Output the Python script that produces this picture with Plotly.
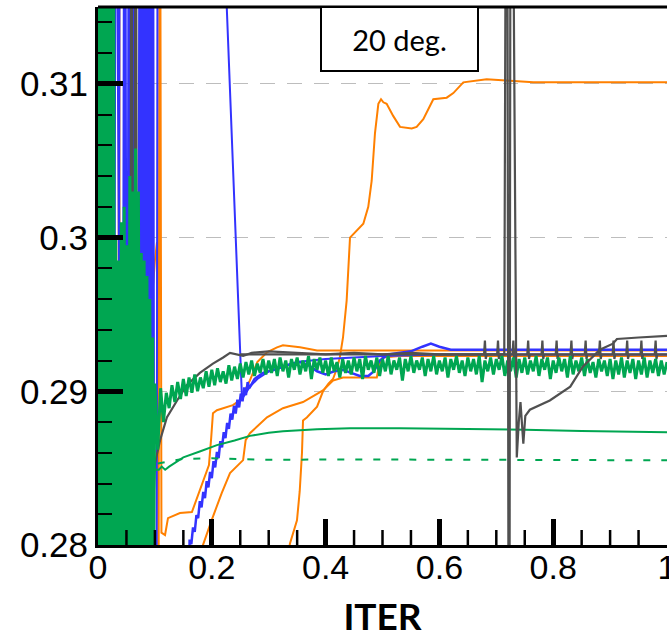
import plotly.graph_objects as go

# ---------------- axis / tick data ----------------
X_TICKS = [0, 0.2, 0.4, 0.6, 0.8, 1.0]
X_TICK_LABELS = ["0", "0.2", "0.4", "0.6", "0.8", "1"]
X_MINOR_TICKS = [0.05, 0.1, 0.15, 0.25, 0.3, 0.35, 0.45, 0.5, 0.55, 0.65, 0.7, 0.75, 0.85, 0.9, 0.95]
Y_TICKS = [0.28, 0.29, 0.30, 0.31]
Y_TICK_LABELS = ["0.28", "0.29", "0.3", "0.31"]
X_RANGE = [0, 1]
Y_RANGE = [0.28, 0.315]
PANEL_LABEL = "20 deg."
X_TITLE = "ITER"

# ---------------- orange series ----------------
ORANGE_A_X = [0.000, 0.036, 0.037, 0.0385, 0.330, 0.3374, 0.3497, 0.3545, 0.3585, 0.3603,
              0.367, 0.385, 0.3954, 0.405, 0.413, 0.420, 0.425, 0.4306, 0.437, 0.4429,
              0.4663, 0.475, 0.481, 0.4868, 0.4927, 0.4974, 0.5015, 0.5073, 0.519, 0.5308,
              0.5513, 0.560, 0.5717, 0.5893, 0.6128, 0.6245, 0.642, 0.683, 0.724, 0.765, 1.000]
ORANGE_A_Y = [0.270, 0.270, 0.340, 0.260, 0.2785, 0.2801, 0.2816, 0.2835, 0.2860, 0.2881,
              0.2883, 0.2890, 0.2900, 0.2905, 0.2908, 0.2915, 0.2922, 0.2935, 0.2959, 0.3000,
              0.3009, 0.3020, 0.3037, 0.3068, 0.3087, 0.3090, 0.3088, 0.3087, 0.3079, 0.3072,
              0.3071, 0.3072, 0.3077, 0.3090, 0.3091, 0.3094, 0.3101, 0.3103, 0.3102, 0.3101, 0.3101]

ORANGE_B_X = [0.000, 0.084, 0.0855, 0.0870, 0.0885, 0.095, 0.1000, 0.1037, 0.1050, 0.1065,
              0.1085, 0.1115, 0.1178, 0.123, 0.144, 0.165, 0.195, 0.199, 0.202, 0.209,
              0.237, 0.2496, 0.267, 0.280, 0.297, 0.3146, 0.325, 0.355, 0.385, 1.000]
ORANGE_B_Y = [0.270, 0.270, 0.340, 0.3077, 0.2958, 0.2960, 0.2985, 0.2997, 0.2960, 0.2750,
              0.3400, 0.2808, 0.28065, 0.28175, 0.28208, 0.28214, 0.2852, 0.2870, 0.28857, 0.28877,
              0.2891, 0.28942, 0.29071, 0.2919, 0.29253, 0.29286, 0.29299, 0.29286, 0.29266, 0.29266]

ORANGE_D_X = [0.000, 0.180, 0.1845, 0.1998, 0.2174, 0.232, 0.255, 0.2595, 0.267, 0.297,
              0.325, 0.3603, 0.3954, 0.413, 0.4306, 0.490, 0.494, 0.500, 0.530, 0.700, 1.000]
ORANGE_D_Y = [0.270, 0.2770, 0.2800, 0.28162, 0.28338, 0.28468, 0.28552, 0.28682, 0.28727, 0.28831,
              0.2889, 0.2893, 0.29006, 0.2907, 0.2909, 0.2909, 0.2917, 0.2922, 0.2923, 0.2923, 0.2923]

# ---------------- blue series ----------------
BLUE_1_X = [0.000, 0.004, 0.008, 0.012, 0.016, 0.023, 0.027, 0.031, 0.043, 0.047,
            0.051, 0.055, 0.060, 0.064, 0.070, 0.074, 0.077, 0.080, 0.082, 0.084,
            0.086, 0.088, 0.090, 0.092, 0.094, 0.096, 0.099, 0.155,
            0.161, 0.164, 0.167, 0.170, 0.173, 0.176, 0.179, 0.182, 0.185, 0.188,
            0.191, 0.194, 0.197, 0.200, 0.203, 0.206, 0.209, 0.212, 0.215, 0.218,
            0.221, 0.224, 0.227, 0.230, 0.233, 0.236, 0.239, 0.242, 0.245, 0.248,
            0.251, 0.254, 0.257, 0.260, 0.263, 0.266,
            0.275, 0.290, 0.310, 0.325, 0.340, 0.355, 0.370, 0.385, 0.400, 0.415,
            0.430, 0.445, 0.460, 0.475, 0.485, 0.495, 0.510, 0.550, 0.570, 0.585,
            0.600, 0.620, 0.800, 1.000]
BLUE_1_Y = [0.290, 0.340, 0.260, 0.340, 0.260, 0.340, 0.260, 0.340, 0.260, 0.340,
            0.260, 0.340, 0.260, 0.340, 0.260, 0.340, 0.260, 0.340, 0.260, 0.340,
            0.260, 0.340, 0.260, 0.340, 0.260, 0.340, 0.260, 0.262,
            0.28035, 0.28005, 0.28115, 0.28085, 0.28195, 0.28175, 0.28285, 0.28245, 0.28345, 0.28305,
            0.28415, 0.28375, 0.28475, 0.28435, 0.28545, 0.28505, 0.28605, 0.28565, 0.28675, 0.28635,
            0.28735, 0.28695, 0.28795, 0.28755, 0.28855, 0.28815, 0.28905, 0.28855, 0.28945, 0.28895,
            0.28985, 0.28935, 0.29025, 0.28975, 0.29060, 0.29020,
            0.2908, 0.2912, 0.2914, 0.2916, 0.2918, 0.2919, 0.2917, 0.2913, 0.2911, 0.2913,
            0.2914, 0.2912, 0.2910, 0.2910, 0.2913, 0.2920, 0.2924, 0.2926, 0.2929, 0.2931,
            0.2929, 0.2927, 0.2927, 0.2927]

BLUE_2_X = [0.000, 0.010, 0.019, 0.035, 0.039, 0.058, 0.062, 0.0665, 0.0935, 0.0960,
            0.1025, 0.1055, 0.200, 0.2531, 0.260, 0.267, 0.280, 0.300, 0.326, 0.350,
            0.400, 0.450, 0.500, 0.600, 0.800, 1.000]
BLUE_2_Y = [0.300, 0.340, 0.260, 0.260, 0.340, 0.340, 0.260, 0.340, 0.340, 0.260,
            0.260, 0.345, 0.340, 0.2895, 0.2899, 0.2903, 0.2908, 0.2913, 0.2916, 0.2919,
            0.2921, 0.2922, 0.2923, 0.2924, 0.2924, 0.2924]

# ---------------- gray series ----------------
GRAY_1_X = [0.000, 0.057, 0.0585, 0.062, 0.0665, 0.069, 0.093, 0.0965, 0.100, 0.109,
            0.121, 0.139, 0.156, 0.179, 0.202, 0.220, 0.232, 0.255, 0.270, 0.300,
            0.350, 0.400, 0.450, 0.500, 0.550, 0.600, 0.650,
            0.6785, 0.680, 0.6815, 0.683, 0.7015, 0.703, 0.7045, 0.706,
            0.7285, 0.730, 0.7315, 0.733, 0.7545, 0.756, 0.7575, 0.759,
            0.7795, 0.781, 0.7825, 0.784, 0.8045, 0.806, 0.8075, 0.809,
            0.8305, 0.832, 0.8335, 0.835, 0.8555, 0.857, 0.8585, 0.860,
            0.8805, 0.882, 0.8835, 0.885, 0.9045, 0.906, 0.9075, 0.909,
            0.9285, 0.930, 0.9315, 0.933, 0.9535, 0.955, 0.9565, 0.958,
            0.9785, 0.980, 0.9815, 0.983, 1.000]
GRAY_1_Y = [0.270, 0.270, 0.340, 0.260, 0.340, 0.260, 0.270, 0.2820, 0.2853, 0.2868,
            0.2883, 0.2894, 0.2904, 0.2912, 0.2918, 0.2922, 0.2925, 0.2923, 0.2925, 0.2926,
            0.2925, 0.2924, 0.2925, 0.2924, 0.2925, 0.2924, 0.2924,
            0.2924, 0.2933, 0.2921, 0.2924, 0.2924, 0.2933, 0.2921, 0.2924,
            0.2924, 0.2933, 0.2921, 0.2924, 0.2924, 0.2933, 0.2921, 0.2924,
            0.2924, 0.2933, 0.2921, 0.2924, 0.2924, 0.2933, 0.2921, 0.2924,
            0.2924, 0.2933, 0.2921, 0.2924, 0.2924, 0.2933, 0.2921, 0.2924,
            0.2924, 0.2933, 0.2921, 0.2924, 0.2924, 0.2933, 0.2921, 0.2924,
            0.2924, 0.2933, 0.2921, 0.2924, 0.2924, 0.2933, 0.2921, 0.2924,
            0.2924, 0.2933, 0.2921, 0.2924, 0.2924]

GRAY_2_X = [0.250, 0.400, 0.600, 0.700, 0.714, 0.7185, 0.7225, 0.7255, 0.7360, 0.7395,
            0.7425, 0.7475, 0.751, 0.759, 0.794, 0.830, 0.852, 0.882, 0.905, 0.912,
            0.950, 1.000]
GRAY_2_Y = [0.2924, 0.2924, 0.2924, 0.2924, 0.2924, 0.345, 0.250, 0.345, 0.2857, 0.2880,
            0.2893, 0.2866, 0.2884, 0.2888, 0.2894, 0.2903, 0.2916, 0.2927, 0.2931, 0.2934,
            0.2935, 0.2936]

# ---------------- green series ----------------
GREEN_SOLID_X = [0.095, 0.100, 0.107, 0.112, 0.118, 0.125, 0.150, 0.180, 0.209, 0.240,
                 0.267, 0.300, 0.325, 0.385, 0.443, 0.530, 0.650, 0.750, 0.850, 1.000]
GREEN_SOLID_Y = [0.2842, 0.2849, 0.2849, 0.2851, 0.2849, 0.2851, 0.2857, 0.2861, 0.2865, 0.2868,
                 0.2871, 0.2873, 0.2874, 0.28753, 0.2876, 0.2876, 0.28755, 0.2875, 0.28742, 0.28734]

GREEN_DASH_X = [0.105, 0.150, 0.200, 0.250, 0.300, 0.350, 0.400, 0.500, 0.600, 0.700,
                0.800, 0.900, 1.000]
GREEN_DASH_Y = [0.2853, 0.2856, 0.28565, 0.28558, 0.28555, 0.28555, 0.28557, 0.28556, 0.28555, 0.28554,
                0.28553, 0.28552, 0.28552]

# early (large-amplitude) part of the noisy green history
GREEN_NOISE_EARLY_X = [0.000, 0.0017, 0.0034, 0.0051, 0.0068, 0.0085, 0.0102, 0.0119, 0.0136, 0.0153,
                       0.0170, 0.0187, 0.0204, 0.0221, 0.0238, 0.0255, 0.0272, 0.0289,
                       0.031, 0.0335, 0.036, 0.0385, 0.041, 0.0435, 0.046, 0.0485, 0.051, 0.0535,
                       0.056, 0.0585, 0.061, 0.0635, 0.066, 0.0685, 0.071, 0.0735, 0.076, 0.0785,
                       0.081, 0.0835, 0.086, 0.0885, 0.091, 0.0935, 0.096, 0.098]
GREEN_NOISE_EARLY_Y = [0.330, 0.270, 0.330, 0.270, 0.330, 0.270, 0.330, 0.270, 0.330, 0.270,
                       0.330, 0.270, 0.330, 0.270, 0.330, 0.270, 0.330, 0.270,
                       0.3000, 0.2760, 0.2985, 0.2750, 0.3010, 0.2770, 0.3020, 0.2760, 0.2995, 0.2750,
                       0.3040, 0.2770, 0.3030, 0.2760, 0.3058, 0.2750, 0.3030, 0.2770, 0.2990, 0.2760,
                       0.2985, 0.2770, 0.2975, 0.2775, 0.2960, 0.2785, 0.2935, 0.2800]

# later part of the noisy green history, sampled every 0.005 from 0.100
GREEN_NOISE_START = 0.100
GREEN_NOISE_STEP = 0.005
GREEN_NOISE_Y = [
    0.2905, 0.2862, 0.2902, 0.2880, 0.2899, 0.2889, 0.2904, 0.2893, 0.2906, 0.2895,
    0.2908, 0.2897, 0.2909, 0.2899, 0.2911, 0.2900, 0.2909, 0.2902, 0.2913, 0.2903,
    0.2914, 0.2904, 0.2915, 0.2906, 0.2913, 0.2905, 0.2917, 0.2907, 0.2916, 0.2908,
    0.2918, 0.2909, 0.2919, 0.2911, 0.2920, 0.2910, 0.2918, 0.2912, 0.2921, 0.2911,
    0.2920, 0.2912, 0.2921, 0.2910, 0.2922, 0.2913, 0.2920, 0.2909, 0.2921, 0.2914,
    0.2922, 0.2911, 0.2920, 0.2913, 0.2923, 0.2908, 0.2921, 0.2914, 0.2922, 0.2912,
    0.2920, 0.2910, 0.2922, 0.2913, 0.2919, 0.2909, 0.2921, 0.2912, 0.2920, 0.2911,
    0.2922, 0.2913, 0.2921, 0.2908, 0.2923, 0.2914, 0.2920, 0.2912, 0.2922, 0.2910,
    0.2921, 0.2913, 0.2923, 0.2911, 0.2920, 0.2914, 0.2922, 0.2907, 0.2921, 0.2913,
    0.2923, 0.2912, 0.2920, 0.2914, 0.2922, 0.2910, 0.2921, 0.2913, 0.2923, 0.2911,
    0.2920, 0.2913, 0.2922, 0.2909, 0.2921, 0.2914, 0.2923, 0.2912, 0.2920, 0.2910,
    0.2922, 0.2913, 0.2921, 0.2911, 0.2923, 0.2906, 0.2920, 0.2913, 0.2922, 0.2911,
    0.2921, 0.2914, 0.2923, 0.2910, 0.2920, 0.2913, 0.2922, 0.2909, 0.2921, 0.2912,
    0.2922, 0.2911, 0.2920, 0.2913, 0.2923, 0.2910, 0.2921, 0.2914, 0.2922, 0.2908,
    0.2920, 0.2912, 0.2922, 0.2913, 0.2921, 0.2909, 0.2923, 0.2911, 0.2920, 0.2913,
    0.2922, 0.2910, 0.2921, 0.2912, 0.2919, 0.2909, 0.2921, 0.2913, 0.2920, 0.2910,
    0.2921, 0.2908, 0.2920, 0.2911, 0.2922, 0.2909, 0.2920, 0.2912, 0.2921, 0.2908,
    0.2920, 0.2911, 0.2922, 0.2909, 0.2920, 0.2912, 0.2921, 0.2910, 0.2920, 0.2911, 0.2919,
]
GREEN_NOISE_X = [round(GREEN_NOISE_START + GREEN_NOISE_STEP * i, 4) for i in range(len(GREEN_NOISE_Y))]

# ---------------- styles ----------------
BLUE = "#3333FF"
ORANGE = "#FF8000"
GRAY = "#505050"
GREEN = "#00A651"
FONT_TICK = "Liberation Sans, Arial, sans-serif"
FONT_TEXT = "Lato, Open Sans, sans-serif"
PLOT_H_PX = 538          # plot-area height in pixels (638 - 7 - 93)
MINOR_TICK_LEN_PX = 15

fig = go.Figure()


def add_line(x, y, color, width, dash="solid"):
    fig.add_trace(go.Scatter(x=x, y=y, mode="lines",
                             line=dict(color=color, width=width, dash=dash, simplify=False),
                             hoverinfo="skip", showlegend=False))


add_line(ORANGE_A_X, ORANGE_A_Y, ORANGE, 2)
add_line(ORANGE_D_X, ORANGE_D_Y, ORANGE, 2)
add_line(ORANGE_B_X, ORANGE_B_Y, ORANGE, 2)
add_line(BLUE_2_X, BLUE_2_Y, BLUE, 2)
add_line(BLUE_1_X, BLUE_1_Y, BLUE, 2.5)
add_line(GRAY_1_X, GRAY_1_Y, GRAY, 2.2)
add_line(GREEN_SOLID_X, GREEN_SOLID_Y, GREEN, 2)
add_line(GREEN_DASH_X, GREEN_DASH_Y, GREEN, 2, dash="7px,11px")
add_line(GREEN_NOISE_EARLY_X + GREEN_NOISE_X, GREEN_NOISE_EARLY_Y + GREEN_NOISE_Y, GREEN, 3)
add_line(GRAY_2_X, GRAY_2_Y, GRAY, 2.2)

fig.add_annotation(text=PANEL_LABEL, xref="paper", yref="paper", x=0.53, y=0.9405,
                   xanchor="center", yanchor="middle", showarrow=False,
                   font=dict(family=FONT_TEXT, size=29, color="black"),
                   bordercolor="black", borderwidth=2, borderpad=0, bgcolor="white",
                   width=155, height=62)

# top frame line of the plot box
fig.add_shape(type="line", xref="paper", yref="paper", x0=0, x1=1, y0=1, y1=1,
              line=dict(color="black", width=3), layer="above")

# minor x ticks (inside, on the bottom axis)
for xv in X_MINOR_TICKS:
    fig.add_shape(type="line", xref="x", yref="paper", x0=xv, x1=xv,
                  y0=0, y1=MINOR_TICK_LEN_PX / PLOT_H_PX,
                  line=dict(color="black", width=2.5), layer="above")

fig.update_layout(
    xaxis=dict(range=X_RANGE, tickmode="array", tickvals=X_TICKS, ticktext=X_TICK_LABELS,
               ticks="inside", ticklen=26, tickwidth=5, tickcolor="black",
               showline=True, linewidth=3, linecolor="black", mirror=False,
               showgrid=False, zeroline=False, ticklabelstandoff=-10,
               ticklabeloverflow="allow",
               tickfont=dict(family=FONT_TICK, size=34, color="black"),
               title=dict(text="<b>" + X_TITLE + "</b>", standoff=24,
                          font=dict(family=FONT_TEXT, size=37, color="black"))),
    yaxis=dict(range=Y_RANGE, tickmode="array", tickvals=Y_TICKS, ticktext=Y_TICK_LABELS,
               ticks="inside", ticklen=25, tickwidth=5, tickcolor="black",
               showline=True, linewidth=3, linecolor="black", mirror=False,
               showgrid=True, gridcolor="#BDBDBD", gridwidth=1.2, griddash="15px,12px",
               zeroline=False, ticklabeloverflow="allow",
               tickfont=dict(family=FONT_TICK, size=35, color="black"),
               minor=dict(tickmode="linear", tick0=0.28, dtick=0.002, ticks="inside", ticklen=14,
                          tickwidth=2, tickcolor="black", showgrid=False)),
    width=669, height=638, margin=dict(l=98, r=2, t=7, b=93, autoexpand=False),
    plot_bgcolor="white", paper_bgcolor="white", showlegend=False)

fig.write_html("out.html", config={"displayModeBar": False},
               post_script="document.body.style.margin='0px';document.body.style.overflow='hidden';")
